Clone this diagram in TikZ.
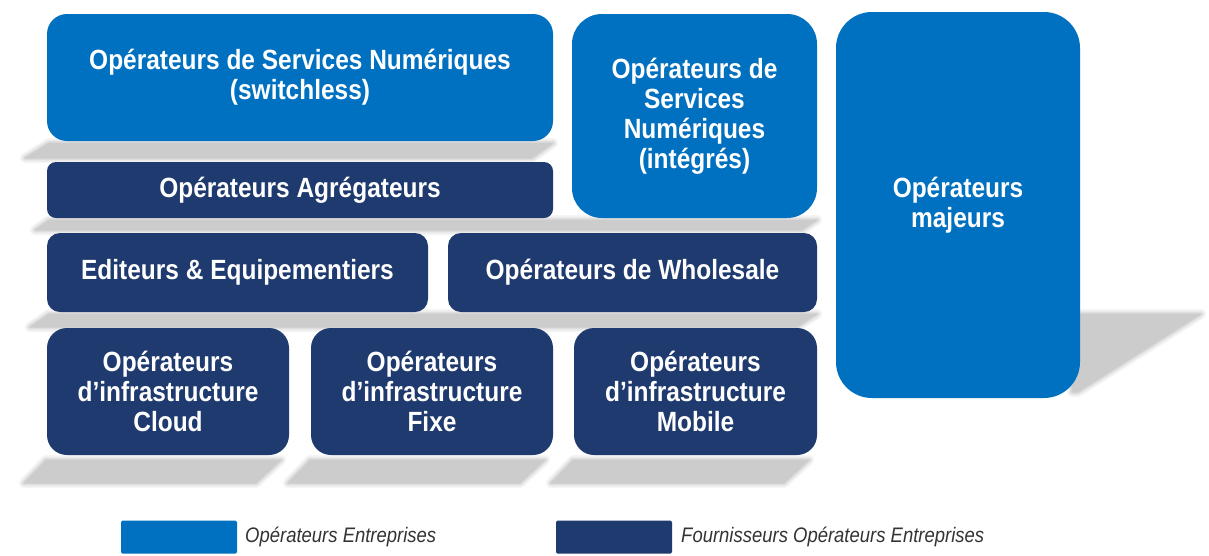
\documentclass[tikz,border=0pt]{standalone}
\usepackage{fontspec}
\setmainfont{Liberation Sans}[FakeStretch=0.88]
\definecolor{lightb}{HTML}{0070C0}
\definecolor{darkb}{HTML}{1F3A6E}
\newcommand\softshade[1]{%
  \draw[black!4, line width=10pt, line join=round] #1;
  \draw[black!8, line width=7pt, line join=round] #1;
  \draw[black!13, line width=4pt, line join=round] #1;
  \draw[black!17, line width=1.5pt, line join=round] #1;
  \fill[black!20] #1;}
\tikzset{
  boxbase/.style={rectangle, inner sep=0pt, align=center, text=white,
    font=\bfseries\fontsize{27.8}{30}\selectfont},
  lightbox/.style={boxbase, fill=lightb},
  darkbox/.style={boxbase, fill=darkb},
  legendtext/.style={anchor=west, inner sep=0pt, text=black!80,
    font=\itshape\fontsize{21}{24}\selectfont},
}
\begin{document}
\begin{tikzpicture}[x=1pt, y=-1pt]
\useasboundingbox (0,0) rectangle (1209,555);
\fill[white] (0,0) rectangle (1209,555);
% shadows
\softshade{(49,143) -- (553,143) -- (532,158) -- (25,158) -- cycle}
\softshade{(49,220) -- (817,220) -- (802,230) -- (35,230) -- cycle}
\softshade{(49,314) -- (817,314) -- (797,327) -- (30,327) -- cycle}
\softshade{(46,460) -- (281,460) -- (256,483) -- (24,483) -- cycle}
\softshade{(310,460) -- (545,460) -- (520,483) -- (288,483) -- cycle}
\softshade{(573,460) -- (809,460) -- (784,483) -- (551,483) -- cycle}
\softshade{(1072,314) -- (1201,314) -- (1078,392) -- (1072,392) -- cycle}
% boxes
\node[lightbox, minimum width=506pt, minimum height=127pt, rounded corners=20pt]
  (osnsw) at (300,77.5) {Opérateurs de Services Numériques\\(switchless)};
\node[darkbox, minimum width=506pt, minimum height=56pt, rounded corners=9pt]
  (agreg) at (300,190) {Opérateurs Agrégateurs};
\node[lightbox, minimum width=245pt, minimum height=204pt, rounded corners=30pt]
  (osnint) at (694.5,116) {Opérateurs de\\Services\\Numériques\\(intégrés)};
\node[lightbox, minimum width=244pt, minimum height=386pt, rounded corners=36pt]
  (majeurs) at (958,205) {Opérateurs\\majeurs};
\node[darkbox, minimum width=381pt, minimum height=79pt, rounded corners=13pt]
  (edit) at (237.5,272.5) {Editeurs \& Equipementiers};
\node[darkbox, minimum width=369pt, minimum height=79pt, rounded corners=13pt]
  (whole) at (632.5,272.5) {Opérateurs de Wholesale};
\node[darkbox, minimum width=242pt, minimum height=127pt, rounded corners=20pt]
  (cloud) at (168,391.5) {Opérateurs\\d’infrastructure\\Cloud};
\node[darkbox, minimum width=242pt, minimum height=127pt, rounded corners=20pt]
  (fixe) at (432,391.5) {Opérateurs\\d’infrastructure\\Fixe};
\node[darkbox, minimum width=243pt, minimum height=127pt, rounded corners=20pt]
  (mobile) at (695.5,391.5) {Opérateurs\\d’infrastructure\\Mobile};
% legend
\node[fill=lightb, inner sep=0pt, minimum width=116pt, minimum height=33pt, rounded corners=1.5pt]
  (legl) at (179,537) {};
\node[legendtext] (legltxt) at (245,537) {Opérateurs Entreprises};
\node[fill=darkb, inner sep=0pt, minimum width=116pt, minimum height=33pt, rounded corners=1.5pt]
  (legd) at (614,537) {};
\node[legendtext] (legdtxt) at (681,537) {Fournisseurs Opérateurs Entreprises};
\end{tikzpicture}
\end{document}
